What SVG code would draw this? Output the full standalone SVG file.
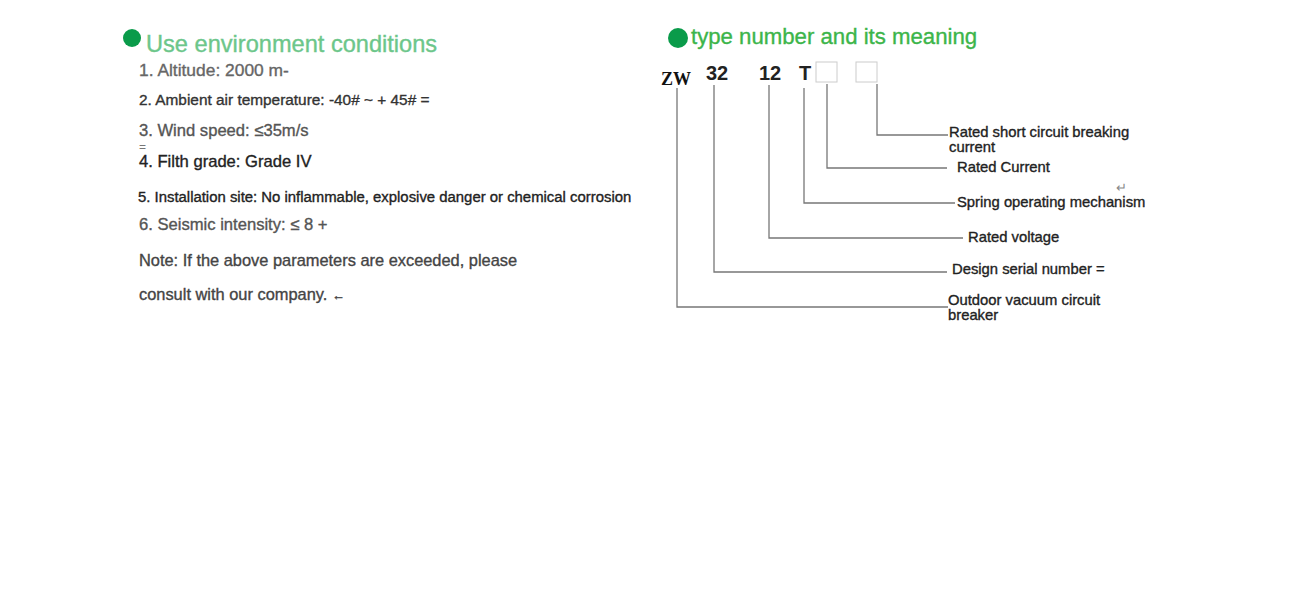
<svg xmlns="http://www.w3.org/2000/svg" width="1298" height="603" viewBox="0 0 1298 603">
<style>
text{font-family:"Liberation Sans",Arial,sans-serif;stroke-width:0.35;paint-order:stroke}
.l{font-size:14.8px;fill:#222;stroke:#222}
.c{fill:none;stroke:#777;stroke-width:1.3}
.n{font-size:20px;font-weight:bold;fill:#222}
</style>
<rect width="1298" height="603" fill="#fff"/>
<g id="env">
<circle cx="132" cy="38" r="9" fill="#0a9b4a"/>
<text x="146" y="52" font-size="23.6" fill="#6cc68a" stroke="#6cc68a">Use environment conditions</text>
<text x="139" y="76" font-size="17.4" fill="#666" stroke="#666">1. Altitude: 2000 m-</text>
<text x="139" y="105" font-size="15.4" fill="#333" stroke="#333">2. Ambient air temperature: -40# ~ + 45# =</text>
<text x="139" y="136" font-size="16.6" fill="#555" stroke="#555">3. Wind speed: ≤35m/s</text>
<text x="139" y="151" font-size="12" fill="#777">=</text>
<text x="139" y="167" font-size="16.6" fill="#222" stroke="#222">4. Filth grade: Grade IV</text>
<text x="138" y="202" font-size="14.9" fill="#222" stroke="#222">5. Installation site: No inflammable, explosive danger or chemical corrosion</text>
<text x="139" y="230" font-size="16.6" fill="#555" stroke="#555">6. Seismic intensity: ≤ 8 +</text>
<text x="139" y="266" font-size="16.4" fill="#444" stroke="#444">Note: If the above parameters are exceeded, please</text>
<text x="139" y="300" font-size="16.4" fill="#444" stroke="#444">consult with our company. <tspan font-size="13">←</tspan></text>
</g>
<g id="type">
<circle cx="678" cy="38" r="10" fill="#0a9b4a"/>
<text x="691" y="44" font-size="22.2" fill="#3cb54a" stroke="#3cb54a">type number and its meaning</text>
<text x="661" y="85" style="font-family:'Liberation Serif',serif" font-size="18" font-weight="bold" fill="#111">ZW</text>
<text class="n" x="706" y="80">32</text>
<text class="n" x="759" y="80">12</text>
<text class="n" x="799" y="80">T</text>
<rect x="816" y="62" width="21" height="20" fill="#fff" stroke="#ccc"/>
<rect x="856" y="62" width="21" height="20" fill="#fff" stroke="#ccc"/>
</g>
<g id="connectors">
<polyline class="c" points="677,88 677,307 948,307"/>
<polyline class="c" points="714,85 714,272 947,272"/>
<polyline class="c" points="769,85 769,238 963,238"/>
<polyline class="c" points="804,88 804,203 955,203"/>
<polyline class="c" points="827,84 827,168 947,168"/>
<polyline class="c" points="877,84 877,135 948,135"/>
</g>
<g id="labels">
<text class="l" x="949" y="137">Rated short circuit breaking</text>
<text class="l" x="949" y="152">current</text>
<text class="l" x="957" y="172">Rated Current</text>
<text x="1116" y="192" font-size="13" fill="#888">↵</text>
<text class="l" x="957" y="207">Spring operating mechanism</text>
<text class="l" x="968" y="242">Rated voltage</text>
<text class="l" x="952" y="274">Design serial number =</text>
<text class="l" x="948" y="305">Outdoor vacuum circuit</text>
<text class="l" x="948" y="320">breaker</text>
</g>
</svg>
